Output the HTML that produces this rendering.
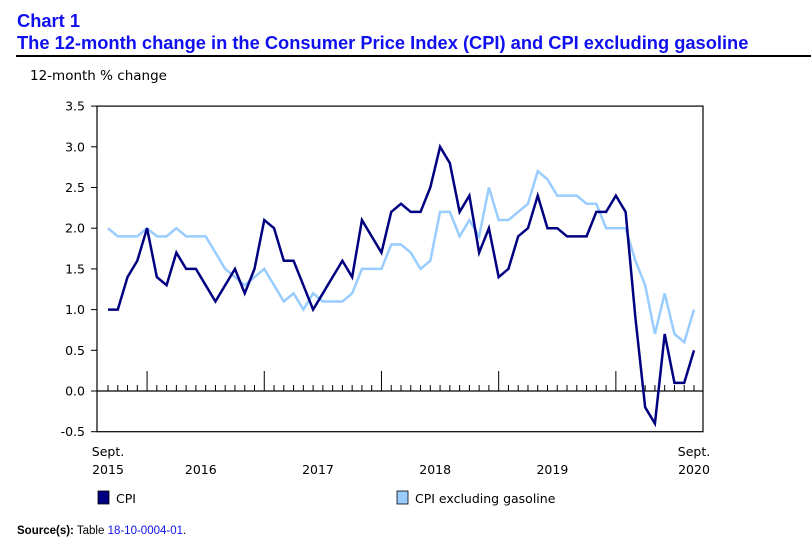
<!DOCTYPE html>
<html><head><meta charset="utf-8"><style>
body{margin:0;width:811px;height:543px;background:#fff;overflow:hidden;font-family:"Liberation Sans",sans-serif}
</style></head><body>
<svg width="811" height="543" xmlns="http://www.w3.org/2000/svg">
<text x="17" y="27" font-family="Liberation Sans" font-weight="bold" font-size="18.3" fill="#1010ee">Chart 1</text>
<text x="17" y="49" font-family="Liberation Sans" font-weight="bold" font-size="18.3" fill="#1010ee">The 12-month change in the Consumer Price Index (CPI) and CPI excluding gasoline</text>
<line x1="16" y1="56" x2="811" y2="56" stroke="#000" stroke-width="2"/>
<text x="30" y="80" font-family="DejaVu Sans" font-size="13.5" fill="#000">12-month % change</text>
<g id="axes"></g>
<g id="series"></g>
<rect x="98" y="491" width="11" height="13" fill="#000080" stroke="#000" stroke-width="0.8"/>
<text x="116" y="503" font-family="DejaVu Sans" font-size="12.5">CPI</text>
<rect x="397" y="491" width="11" height="13" fill="#99ccff" stroke="#000" stroke-width="0.8"/>
<text x="415" y="503" font-family="DejaVu Sans" font-size="12.5">CPI excluding gasoline</text>
<text x="17" y="534" font-family="Liberation Sans" font-size="11.5"><tspan font-weight="bold">Source(s):</tspan> Table <tspan fill="#1010ee">18-10-0004-01</tspan>.</text>
</svg>
<script>
const cpi=[1.0,1.0,1.4,1.6, 2.0,1.4,1.3,1.7,1.5,1.5,1.3,1.1,1.3,1.5,1.2,1.5, 2.1,2.0,1.6,1.6,1.3,1.0,1.2,1.4,1.6,1.4,2.1,1.9, 1.7,2.2,2.3,2.2,2.2,2.5,3.0,2.8,2.2,2.4,1.7,2.0, 1.4,1.5,1.9,2.0,2.4,2.0,2.0,1.9,1.9,1.9,2.2,2.2, 2.4,2.2,0.9,-0.2,-0.4,0.7,0.1,0.1,0.5];
const cpiExGas=[2.0,1.9,1.9,1.9, 2.0,1.9,1.9,2.0,1.9,1.9,1.9,1.7,1.5,1.4,1.3,1.4, 1.5,1.3,1.1,1.2,1.0,1.2,1.1,1.1,1.1,1.2,1.5,1.5, 1.5,1.8,1.8,1.7,1.5,1.6,2.2,2.2,1.9,2.1,1.9,2.5, 2.1,2.1,2.2,2.3,2.7,2.6,2.4,2.4,2.4,2.3,2.3,2.0, 2.0,2.0,1.6,1.3,0.7,1.2,0.7,0.6,1.0];
const yTicks=[-0.5,0.0,0.5,1.0,1.5,2.0,2.5,3.0,3.5];
const yearLabels=["2016","2017","2018","2019"];
const NS="http://www.w3.org/2000/svg";
const X0=108,DX=(694-108)/60,Y0=391,DY=81.4;
const xs=i=>X0+i*DX, ys=v=>Y0-v*DY;
function mk(t,a,p){const e=document.createElementNS(NS,t);for(const k in a)e.setAttribute(k,a[k]);p.appendChild(e);return e;}
const ax=document.getElementById('axes');
let f=mk('rect',{x:97,y:ys(3.5),width:606,height:ys(-0.5)-ys(3.5),fill:'none',stroke:'#000','stroke-width':1.2},ax);


yTicks.forEach(v=>{
 const l=mk('line',{x1:91,x2:97,y1:ys(v),y2:ys(v),stroke:'#000'},ax);
 
 
 const t=mk('text',{x:85,y:ys(v)+4.5,'text-anchor':'end','font-family':'DejaVu Sans','font-size':12.5},ax);
 t.textContent=v.toFixed(1);
 
 
});
const z=mk('line',{x1:97,x2:703,y1:Y0,y2:Y0,stroke:'#000','stroke-width':1.2},ax);


for(let i=0;i<cpi.length;i++){
 const jan=(i+8)%12===0;
 const l=mk('line',{x1:xs(i),x2:xs(i),y1:Y0,y2:Y0-(jan?20:6),stroke:'#000'},ax);
 
 
}
function lab(txt,x,y){const t=mk('text',{x:x,y:y,'text-anchor':'middle','font-family':'DejaVu Sans','font-size':12.5},ax);t.textContent=txt;}
lab('Sept.',xs(0),456);lab('2015',xs(0),474);
yearLabels.forEach((y,k)=>lab(y,xs(4+12*k+5.5),474));
lab('Sept.',xs(60),456);lab('2020',xs(60),474);
const sg=document.getElementById('series');
function line(d,c,n){const p=mk('polyline',{points:d.map((v,i)=>xs(i)+','+ys(v)).join(' '),fill:'none',stroke:c,'stroke-width':2.5,'stroke-linejoin':'miter'},sg);
 
 }
line(cpiExGas,'#99ccff','series-cpi-ex-gasoline');
line(cpi,'#000080','series-cpi');
</script>
</body></html>
